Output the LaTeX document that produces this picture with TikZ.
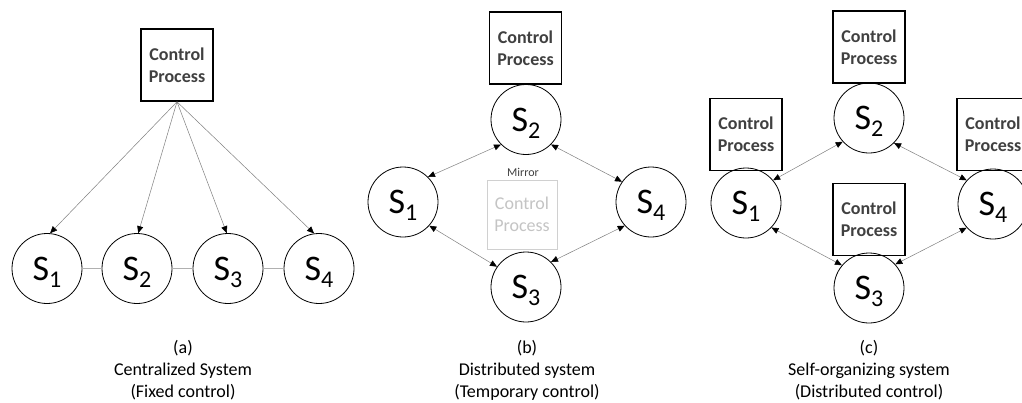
\documentclass[tikz,border=0pt]{standalone}
\usepackage{fontspec}
\setmainfont{Carlito}
\usetikzlibrary{arrows.meta}
\definecolor{boxtext}{HTML}{404040}
\definecolor{mirrorgray}{HTML}{D0D0D0}
\definecolor{mirrortext}{HTML}{C4C4C4}
\definecolor{linkgray}{HTML}{808080}
\definecolor{flatgray}{HTML}{B0B0B0}
\newcommand{\Slab}[1]{{\fontsize{36}{36}\selectfont S\raisebox{-7pt}{\fontsize{24}{24}\selectfont #1}}}
\tikzset{
  snode/.style={circle, draw=black, line width=0.8pt, minimum size=70pt, inner sep=0pt, text depth=0pt},
  cbox/.style={draw=black, line width=1.6pt, minimum width=72pt, minimum height=72pt, inner sep=0pt,
    align=center, text=boxtext, font=\fontsize{18}{22}\selectfont\bfseries},
  mbox/.style={draw=mirrorgray, line width=1pt, minimum width=70pt, minimum height=69pt, inner sep=0pt,
    align=center, text=mirrortext, font=\fontsize{18}{22}\selectfont},
  caption/.style={align=center, text=black, font=\fontsize{18}{22}\selectfont},
  onelink/.style={draw=linkgray, line width=0.5pt, -{Triangle[length=7pt,width=6pt,color=black]}},
  twolink/.style={draw=linkgray, line width=0.5pt, {Triangle[length=7pt,width=6pt,color=black]}-{Triangle[length=7pt,width=6pt,color=black]}},
  flatlink/.style={draw=flatgray, line width=0.5pt}
}
\begin{document}
\begin{tikzpicture}[x=1pt,y=-1pt]
\useasboundingbox (0,0) rectangle (1022,402);
\clip (0,0) rectangle (1022,402);
\fill[white] (0,0) rectangle (1022,402);

% ---------- (a) ----------
\node[cbox] (CPa) at (177,65) {Control\\Process};
\node[snode] (S1a) at (47,268.5) {\Slab{1}};
\node[snode] (S2a) at (137,268.5) {\Slab{2}};
\node[snode] (S3a) at (228,268.5) {\Slab{3}};
\node[snode] (S4a) at (319,268.5) {\Slab{4}};
\draw[flatlink] (S1a) -- (S2a);
\draw[flatlink] (S2a) -- (S3a);
\draw[flatlink] (S3a) -- (S4a);
\draw[onelink] (CPa.south) -- (S1a.85);
\draw[onelink] (CPa.south) -- (S2a.88);
\draw[onelink] (CPa.south) -- (S3a.92);
\draw[onelink] (CPa.south) -- (S4a.98);
\node[caption] (capa) at (183,370) {(a)\\Centralized System\\(Fixed control)};

% ---------- (b) ----------
\node[cbox] (CPb) at (525.5,48) {Control\\Process};
\node[snode] (S2b) at (526,119.5) {\Slab{2}};
\node[snode] (S1b) at (403,202) {\Slab{1}};
\node[snode] (S4b) at (651,202) {\Slab{4}};
\node[snode] (S3b) at (526,287) {\Slab{3}};
\node[mbox] (MCP) at (522,214.5) {Control\\Process};
\node[text=boxtext, font=\fontsize{12}{14}\selectfont, inner sep=0pt] (mir) at (523,172) {Mirror};
\draw[twolink] (S1b.45) -- (S2b.225);
\draw[twolink] (S2b.315) -- (S4b.145);
\draw[twolink] (S1b.318) -- (S3b.145);
\draw[twolink] (S3b.45) -- (S4b.222);
\node[caption] (capb) at (527,370) {(b)\\Distributed system\\(Temporary control)};

% ---------- (c) ----------
\node[cbox] (CPc2) at (869,47) {Control\\Process};
\node[snode] (S2c) at (869,118) {\Slab{2}};
\node[cbox] (CPc1) at (746,134.5) {Control\\Process};
\node[snode] (S1c) at (746,203) {\Slab{1}};
\node[cbox] (CPc4) at (993,134.5) {Control\\Process};
\node[snode] (S4c) at (993,204) {\Slab{4}};
\node[cbox] (CPc3) at (869,219.5) {Control\\Process};
\node[snode] (S3c) at (869,288) {\Slab{3}};
\draw[twolink] (S1c.40) -- (S2c.222);
\draw[twolink] (S2c.315) -- (S4c.138);
\draw[twolink] (S1c.316) -- (S3c.140);
\draw[twolink] (S3c.42) -- (S4c.222);
\node[caption] (capc) at (869,370) {(c)\\Self-organizing system\\(Distributed control)};
\end{tikzpicture}
\end{document}
